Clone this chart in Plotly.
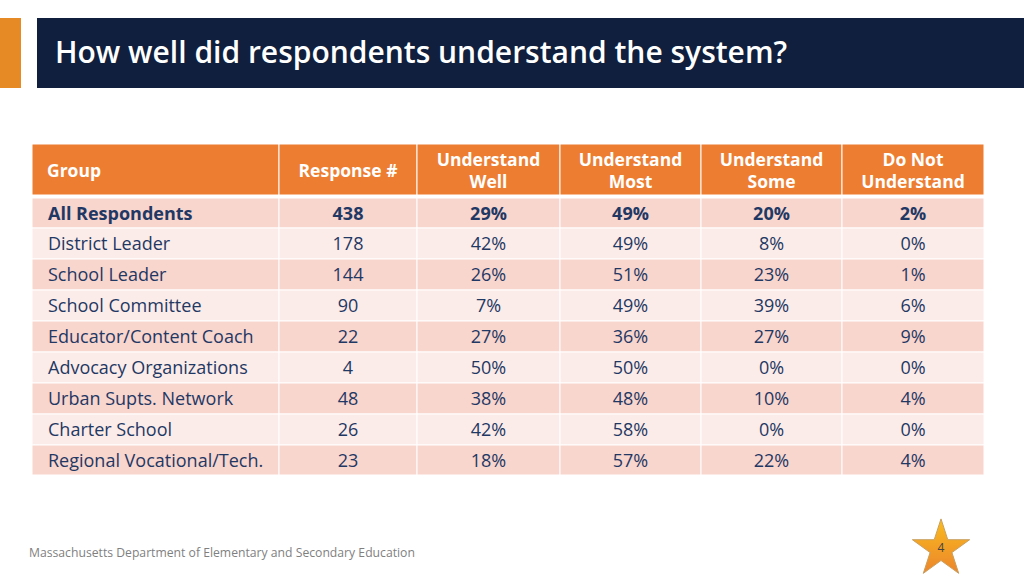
import plotly.graph_objects as go

FONT = "Open Sans"
NAVY = "#1F3864"

title = "How well did respondents understand the system?"
footer = "Massachusetts Department of Elementary and Secondary Education"
page_no = "4"

headers = ["Group", "Response #", "Understand<br>Well", "Understand<br>Most",
           "Understand<br>Some", "Do Not<br>Understand"]
groups = ["All Respondents", "District Leader", "School Leader", "School Committee",
          "Educator/Content Coach", "Advocacy Organizations", "Urban Supts. Network",
          "Charter School", "Regional Vocational/Tech."]
responses = [438, 178, 144, 90, 22, 4, 48, 26, 23]
well = [29, 42, 26, 7, 27, 50, 38, 42, 18]
most = [49, 49, 51, 49, 36, 50, 48, 58, 57]
some = [20, 8, 23, 39, 27, 0, 10, 0, 22]
none = [2, 0, 1, 6, 9, 0, 4, 0, 4]

# table grid, in slide pixels
col_edges = [32, 279, 417, 560, 701, 842, 984]
row_edges = [198, 228, 259, 290, 321, 352, 383, 414, 445, 475]
head_top, head_bottom = 144, 195
text_drop = 2  # text sits a little below the cell middle


def cell(v, i, suffix=""):
    # first row is bold
    s = f"{v}{suffix}"
    return f"<b>{s}</b>" if i == 0 else s


columns = [[cell(g, i) for i, g in enumerate(groups)],
           [cell(v, i) for i, v in enumerate(responses)]]
for vals in (well, most, some, none):
    columns.append([cell(v, i, "%") for i, v in enumerate(vals)])

row_mid = [(row_edges[i] + row_edges[i + 1]) / 2 + text_drop for i in range(len(groups))]
col_mid = [(col_edges[i] + col_edges[i + 1]) / 2 for i in range(len(headers))]


def rect(x0, x1, y0, y1, color, width=1):
    return dict(type="rect", xref="x", yref="y", x0=x0, x1=x1, y0=y0, y1=y1,
                fillcolor=color, line=dict(color="white", width=width), layer="below")


shapes = [
    dict(type="rect", xref="x", yref="y", x0=0, x1=21, y0=18, y1=88,
         fillcolor="#E58A24", line_width=0, layer="below"),
    dict(type="rect", xref="x", yref="y", x0=37, x1=1024, y0=18, y1=88,
         fillcolor="#0F1F3D", line_width=0, layer="below"),
]
for c in range(len(headers)):
    shapes.append(rect(col_edges[c], col_edges[c + 1], head_top, head_bottom, "#ED7D31"))
    for r in range(len(groups)):
        shapes.append(rect(col_edges[c], col_edges[c + 1], row_edges[r], row_edges[r + 1],
                           "#F8D5CD" if r % 2 == 0 else "#FBECE9"))

fig = go.Figure()

# header row
fig.add_trace(go.Scatter(
    x=[47] + col_mid[1:], y=[(head_top + head_bottom) / 2 + 1 + text_drop] * 6, mode="text",
    text=[f"<b>{h}</b>" for h in headers],
    textposition=["middle right"] + ["middle center"] * 5,
    textfont=dict(family=FONT, size=17.5, color="white"),
    hoverinfo="skip",
))

# body columns
for c, col in enumerate(columns):
    fig.add_trace(go.Scatter(
        x=[48 if c == 0 else col_mid[c]] * len(col), y=row_mid, mode="text", text=col,
        textposition="middle right" if c == 0 else "middle center",
        textfont=dict(family=FONT, size=18, color=NAVY),
        hoverinfo="skip",
    ))

# star for the page number
fig.add_trace(go.Scatter(
    x=[941], y=[549], mode="markers+text", text=[page_no],
    textposition="middle center", textfont=dict(family=FONT, size=12, color="#444444"),
    marker=dict(symbol="star", size=43, color="#F9BC1E",
                gradient=dict(type="vertical", color="#EC852C"),
                line=dict(color="#C9A060", width=1)),
    hoverinfo="skip",
))

fig.update_layout(
    width=1024, height=576, margin=dict(l=0, r=0, t=0, b=0),
    paper_bgcolor="white", plot_bgcolor="white", showlegend=False,
    xaxis=dict(range=[0, 1024], visible=False),
    yaxis=dict(range=[576, 0], visible=False),
    shapes=shapes,
    annotations=[
        dict(text=title, x=53, y=51, xref="x", yref="y",
             xanchor="left", yanchor="middle", showarrow=False,
             font=dict(family=FONT, size=30, weight=600, color="white")),
        dict(text=footer, x=27, y=552, xref="x", yref="y",
             xanchor="left", yanchor="middle", showarrow=False,
             font=dict(family=FONT, size=12.2, color="#7F7F7F")),
    ],
)

fig.write_html("out.html", config=dict(displayModeBar=False),
               post_script="document.body.style.margin='0';")
